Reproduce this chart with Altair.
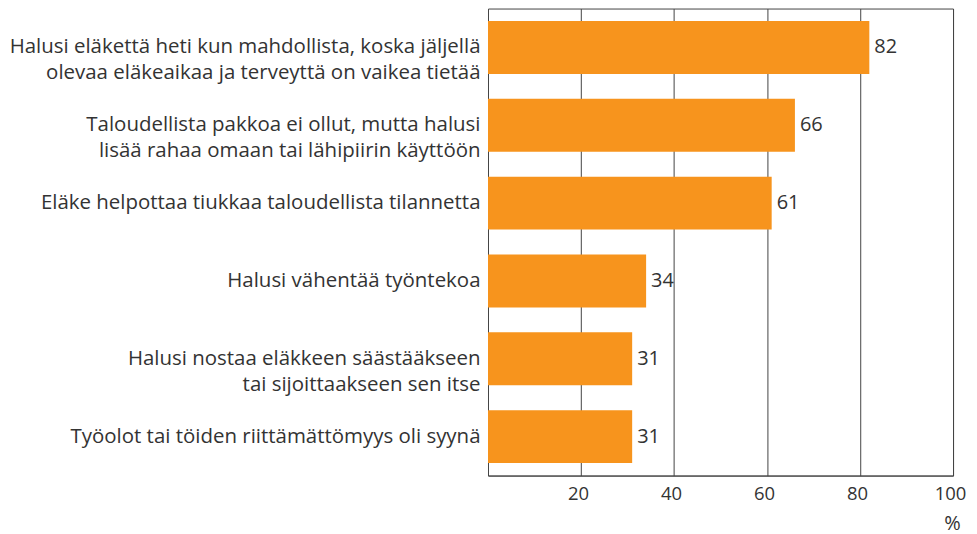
import altair as alt
import pandas as pd

categories = [
    "Halusi eläkettä heti kun mahdollista, koska jäljellä|olevaa eläkeaikaa ja terveyttä on vaikea tietää",
    "Taloudellista pakkoa ei ollut, mutta halusi|lisää rahaa omaan tai lähipiirin käyttöön",
    "Eläke helpottaa tiukkaa taloudellista tilannetta",
    "Halusi vähentää työntekoa",
    "Halusi nostaa eläkkeen säästääkseen|tai sijoittaakseen sen itse",
    "Työolot tai töiden riittämättömyys oli syynä",
]
values = [82, 66, 61, 34, 31, 31]
x_ticks = [20, 40, 60, 80, 100]

df = pd.DataFrame({"cat": categories, "val": values})

FONT = "Open Sans"
TXT = "#333333"
LINE = "#444444"

y = alt.Y(
    "cat:N",
    sort=categories,
    title=None,
    scale=alt.Scale(paddingInner=0.32, paddingOuter=0.16),
    axis=alt.Axis(
        labelExpr="split(datum.label, '|')",
        labelFontSize=20.5,
        labelColor=TXT,
        labelLineHeight=26,
        labelFont=FONT,
        ticks=False,
        domain=False,
        labelPadding=8,
        labelLimit=700,
    ),
)

x = alt.X(
    "val:Q",
    scale=alt.Scale(domain=[0, 100], nice=False),
    axis=alt.Axis(
        values=x_ticks,
        grid=True,
        gridColor=LINE,
        gridWidth=1,
        ticks=False,
        domain=True,
        domainColor=LINE,
        labelFontSize=18.5,
        labelColor=TXT,
        labelFont=FONT,
        labelPadding=9,
        labelOffset=-3,
        labelFlush=False,
        labelBound=False,
        title="%",
        titleFont=FONT,
        titleFontSize=20,
        titleFontWeight="normal",
        titleColor=TXT,
        titleX=465,
        titleY=48,
        titleAlign="center",
        titleBaseline="middle",
    ),
)

bars = alt.Chart(df).mark_bar(color="#F7941D").encode(x=x, y=y)
text = alt.Chart(df).mark_text(
    align="left", baseline="middle", dx=5, fontSize=20, color=TXT, font=FONT
).encode(x="val:Q", y=alt.Y("cat:N", sort=categories), text="val:Q")

chart = (
    alt.layer(bars, text)
    .properties(
        width=466,
        height=468,
        autosize=alt.AutoSizeParams(type="none"),
        padding={"left": 481, "top": 0, "right": 16, "bottom": 58},
    )
    .configure_view(stroke=LINE, strokeWidth=1)
)

chart.save("out.html", embed_options={"renderer": "svg", "actions": False})
